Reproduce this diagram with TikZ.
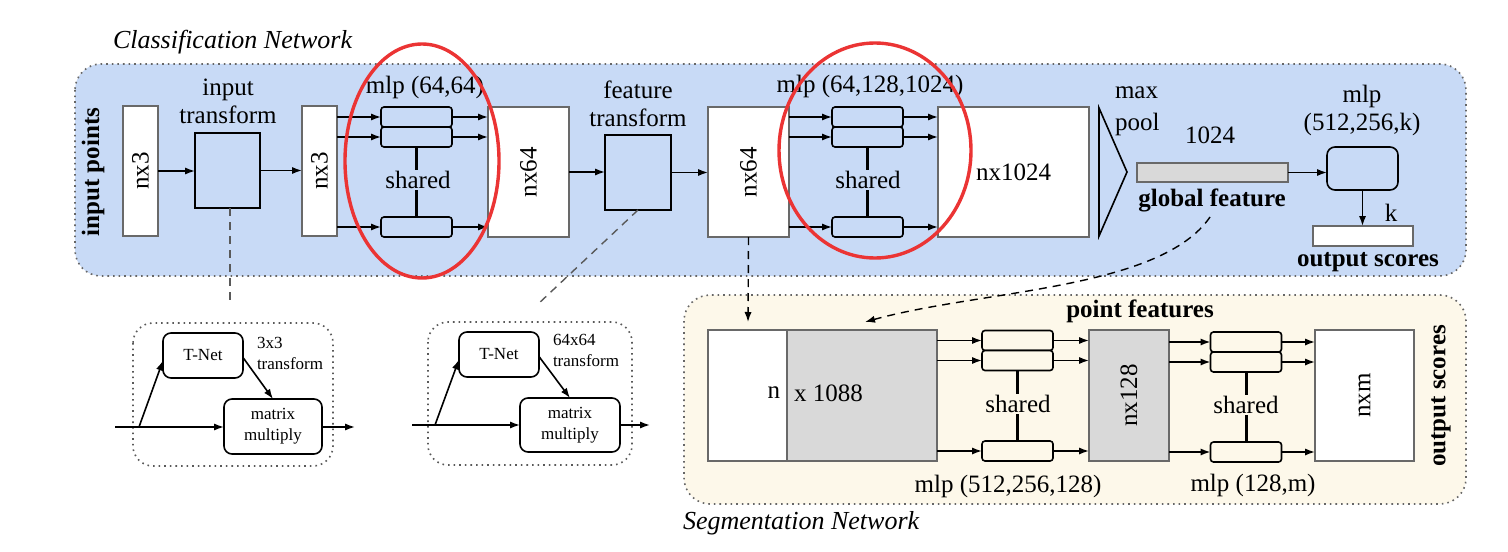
\documentclass[tikz,border=0pt]{standalone}
\usepackage{fontspec}
\setmainfont{Liberation Serif}
\usetikzlibrary{arrows.meta,calc}
\definecolor{bluebg}{RGB}{200,218,246}
\definecolor{beigebg}{RGB}{253,248,234}
\definecolor{grayfill}{RGB}{217,217,217}
\definecolor{edgegray}{RGB}{105,105,105}
\definecolor{redc}{RGB}{235,52,52}
\begin{document}
\begin{tikzpicture}[x=0.5pt,y=-0.5pt,
  every node/.style={inner sep=0pt, outer sep=0pt, font=\fontsize{12.5}{14}\selectfont},
  lbl/.style={align=center},
  bld/.style={font=\fontsize{12.5}{14}\selectfont\bfseries},
  ital/.style={font=\fontsize{13}{15}\selectfont\itshape},
  small/.style={font=\fontsize{8.5}{10.5}\selectfont},
  wbox/.style={draw=edgegray, fill=white, line width=0.8pt},
  gbox/.style={draw=edgegray, fill=grayfill, line width=0.8pt},
  tbox/.style={draw=black, line width=0.8pt, fill=bluebg},
  mbox/.style={draw=black, rounded corners=1.5pt, line width=0.8pt, minimum width=35.5pt, minimum height=10pt},
  tnbox/.style={draw=black, rounded corners=4pt, line width=0.8pt, fill=white, align=center, font=\fontsize{8.5}{10.5}\selectfont},
  arr/.style={-{Latex[length=5pt,width=3.6pt]}, line width=0.8pt},
  sharedline/.style={line width=1.5pt},
  region/.style={draw=black!60, dotted, line width=0.8pt, rounded corners=13pt},
  tregion/.style={draw=black!65, dotted, line width=0.8pt, rounded corners=10pt},
  glink/.style={dash pattern=on 4pt off 3pt, draw=black!65, line width=0.7pt},
  blink/.style={dash pattern=on 4pt off 3pt, line width=0.7pt, -{Latex[length=5pt,width=3.6pt]}},
  redell/.style={draw=redc, line width=1.7pt}
]
\useasboundingbox (0,0) rectangle (1508,551);
\fill[white] (0,0) rectangle (1508,551);

% ---------------- Classification network ----------------
\draw[region, fill=bluebg] (75,64) rectangle (1466,276);
\node[ital, anchor=west] (cnlabel) at (113,42) {Classification Network};
\node[bld, rotate=90] (inpts) at (93,172) {input points};

\node[wbox, minimum width=17.5pt, minimum height=65pt] (nx3a) at (140.5,171) {};
\node[rotate=90] at (nx3a) {nx3};
\node[tbox, minimum width=32.5pt, minimum height=37.5pt] (it) at (227.5,170.5) {};
\node[lbl] (itlabel) at (228,101) {input\\transform};
\node[wbox, minimum width=17.5pt, minimum height=65pt] (nx3b) at (319.5,171) {};
\node[rotate=90] at (nx3b) {nx3};

\node[mbox, fill=bluebg] (m1a) at (416.5,117) {};
\node[mbox, fill=bluebg] (m1b) at (416.5,137) {};
\node[mbox, fill=bluebg] (m1c) at (416.5,227) {};
\node (mlp1) at (425,87) {mlp (64,64)};

\node[wbox, minimum width=40.5pt, minimum height=65pt] (nx64a) at (528.5,172) {};
\node[rotate=90] at (nx64a) {nx64};
\node[tbox, minimum width=33pt, minimum height=37.5pt] (ft) at (638,172.5) {};
\node[lbl] (ftlabel) at (638,104) {feature\\transform};
\node[wbox, minimum width=40.5pt, minimum height=65pt] (nx64b) at (748.5,172) {};
\node[rotate=90] at (nx64b) {nx64};

\node[mbox, fill=bluebg] (m2a) at (867.5,117) {};
\node[mbox, fill=bluebg] (m2b) at (867.5,137) {};
\node[mbox, fill=bluebg] (m2c) at (867.5,227) {};
\node (mlp2) at (870,86) {mlp (64,128,1024)};

\node[wbox, minimum width=75.5pt, minimum height=65pt] (nx1024) at (1013.5,172) {};
\node at (nx1024) {nx1024};

\draw[line width=0.8pt] (1099,108) -- (1127,172) -- (1099,236) -- cycle;
\node[anchor=west] (maxl) at (1115,93) {max};
\node[anchor=west] (pooll) at (1115,124) {pool};
\node (n1024) at (1210,135) {1024};
\node[gbox, minimum width=75.5pt, minimum height=9.5pt] (gf) at (1212.5,172.5) {};
\node[bld] (gflabel) at (1212,200) {global feature};

\node[draw=black, rounded corners=4pt, line width=0.8pt, fill=bluebg, minimum width=35.5pt, minimum height=21.5pt] (mlpc) at (1362.5,168.5) {};
\node[lbl] (mlpclabel) at (1362,110) {mlp\\(512,256,k)};
\node[wbox, minimum width=50pt, minimum height=10pt] (outb) at (1363,236) {};
\node (klabel) at (1391,213) {k};
\node[bld] (outlabel) at (1368,262) {output scores};

% arrows classification
\draw[arr] (nx3a.east) -- (it.west |- nx3a.east);
\draw[arr] (it.east) -- (nx3b.west |- it.east);
\foreach \m in {m1a,m1b,m1c}{
  \draw[arr] (nx3b.east |- \m.west) -- (\m.west);
  \draw[arr] (\m.east) -- (nx64a.west |- \m.east);
}
\draw[sharedline] (m1b.south) -- (m1c.north);
\node[fill=bluebg, inner ysep=0.6pt] (sh1) at (418,180) {shared};
\draw[arr] (nx64a.east) -- (ft.west |- nx64a.east);
\draw[arr] (ft.east) -- (nx64b.west |- ft.east);
\foreach \m in {m2a,m2b,m2c}{
  \draw[arr] (nx64b.east |- \m.west) -- (\m.west);
  \draw[arr] (\m.east) -- (nx1024.west |- \m.east);
}
\draw[sharedline] (m2b.south) -- (m2c.north);
\node[fill=bluebg, inner ysep=0.6pt] (sh2) at (868,180) {shared};
\draw[arr] (gf.east) -- (mlpc.west |- gf.east);
\draw[arr] (mlpc.south) -- (outb.north -| mlpc.south);

% ---------------- T-Net details ----------------
\coordinate (d1) at (230,305);
\coordinate (d2) at (537,305);
\draw[glink] (it.south -| 230,0) -- (d1);
\draw[glink] (ft.south) -- (d2);

\draw[tregion] (133,323) rectangle (333,466);
\node[tnbox, minimum width=40pt, minimum height=22.5pt] (tnet1) at (203,355.5) {T-Net};
\node[tnbox, minimum width=49pt, minimum height=27.5pt] (mm1) at (273,426.5) {matrix\\multiply};
\node[small, anchor=north west, align=left] (tr1) at (257,337) {3x3\\transform};
\coordinate (in1) at (115,427);
\coordinate (br1) at (139,427);
\coordinate (out1) at (355,427);
\draw[arr] (in1) -- (mm1.west |- in1);
\draw[arr] (br1) -- ($(tnet1.west)+(0,5)$);
\draw[arr] ($(tnet1.east)+(0,2)$) -- (mm1.north);
\draw[arr] (mm1.east |- out1) -- (out1);

\draw[tregion] (428,322) rectangle (632,465);
\node[tnbox, minimum width=40pt, minimum height=22.5pt] (tnet2) at (499,354.5) {T-Net};
\node[tnbox, minimum width=50pt, minimum height=27pt] (mm2) at (570,425) {matrix\\multiply};
\node[small, anchor=north west, align=left] (tr2) at (553,334) {64x64\\transform};
\coordinate (in2) at (412,425);
\coordinate (br2) at (435,425);
\coordinate (out2) at (650,425);
\draw[arr] (in2) -- (mm2.west |- in2);
\draw[arr] (br2) -- ($(tnet2.west)+(0,5)$);
\draw[arr] ($(tnet2.east)+(0,2)$) -- (mm2.north);
\draw[arr] (mm2.east |- out2) -- (out2);

% ---------------- Segmentation network ----------------
\draw[region, fill=beigebg] (684,295) rectangle (1466,504);
\node[ital, anchor=west] (snlabel) at (683,523) {Segmentation Network};

\node[wbox, minimum width=39.5pt, minimum height=65.5pt] (segn) at (747.5,395.5) {};
\node[gbox, minimum width=75pt, minimum height=65.5pt] (segg) at (862,395.5) {};
\node[anchor=east] (nl) at (780,393) {n};
\node[anchor=west] (xl) at (794,393) {x 1088};

\node[mbox, fill=beigebg] (sa) at (1017.5,340.5) {};
\node[mbox, fill=beigebg] (sb) at (1017.5,360.5) {};
\node[mbox, fill=beigebg] (sc) at (1017.5,451) {};
\node[gbox, minimum width=40pt, minimum height=65.5pt] (nx128) at (1129,395.5) {};
\node[rotate=90] at (nx128) {nx128};
\node[mbox, fill=beigebg] (ta) at (1246,342) {};
\node[mbox, fill=beigebg] (tb) at (1246,362) {};
\node[mbox, fill=beigebg] (tc) at (1246,452) {};
\node[wbox, minimum width=49.5pt, minimum height=65.5pt] (nxm) at (1364.5,395.5) {};
\node[rotate=90] at (nxm) {nxm};

\foreach \m in {sa,sb,sc}{
  \draw[arr] (segg.east |- \m.west) -- (\m.west);
  \draw[arr] (\m.east) -- (nx128.west |- \m.east);
}
\foreach \m in {ta,tb,tc}{
  \draw[arr] (nx128.east |- \m.west) -- (\m.west);
  \draw[arr] (\m.east) -- (nxm.west |- \m.east);
}
\draw[sharedline] (sb.south) -- (sc.north);
\node[fill=beigebg, inner ysep=0.6pt] (sh3) at (1018,404) {shared};
\draw[sharedline] (tb.south) -- (tc.north);
\node[fill=beigebg, inner ysep=0.6pt] (sh4) at (1246,405) {shared};

\node[bld] (pflabel) at (1140,311) {point features};
\node[bld, rotate=90] (oslabel) at (1441,396) {output scores};
\node (mlps1) at (1008,486) {mlp (512,256,128)};
\node (mlps2) at (1253,485) {mlp (128,m)};

% dashed links to segmentation
\coordinate (segin) at (748,322);
\draw[blink] (nx64b.south) -- (segin);
\coordinate (gfstart) at (1210,217);
\coordinate (gfend) at (865,322);
\draw[blink] (gfstart) .. controls (1160,290) and (980,290) .. (gfend);

% red ellipses
\draw[redell] (422,161) ellipse [x radius=38.5pt, y radius=58.5pt];
\draw[redell] (875,150.5) ellipse [x radius=48pt, y radius=53.75pt];
\end{tikzpicture}
\end{document}
